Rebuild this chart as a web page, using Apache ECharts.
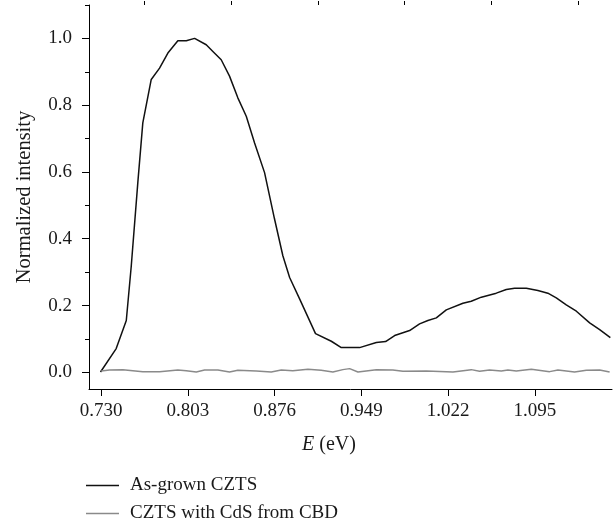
<!DOCTYPE html>
<html>
<head>
<meta charset="utf-8">
<script src="https://cdn.jsdelivr.net/npm/echarts@6/dist/echarts.min.js"></script>
<style>html,body{margin:0;padding:0;background:#fff}#c{width:613px;height:524px}</style>
</head>
<body>
<div id="c"></div>
<script>
// ---- data ----
var seriesNames = ['As-grown CZTS', 'CZTS with CdS from CBD'];
var asGrownE = [0.7294,0.7426,0.7511,0.7553,0.7608,0.7650,0.7721,0.7791,0.7861,0.7945,0.8016,0.8086,0.8184,0.8240,0.8310,0.8380,0.8450,0.8521,0.8591,0.8675,0.8759,0.8829,0.8886,0.8970,0.9104,0.9237,0.9321,0.9475,0.9616,0.9694,0.9770,0.9896,0.9980,1.0050,1.0121,1.0205,1.0345,1.0415,1.0500,1.0626,1.0710,1.0780,1.0879,1.0976,1.1060,1.1131,1.1215,1.1300,1.1412,1.1496,1.1586];
var asGrownI = [0.001,0.071,0.155,0.319,0.568,0.747,0.877,0.911,0.956,0.993,0.993,1.000,0.981,0.961,0.936,0.887,0.822,0.767,0.687,0.598,0.459,0.349,0.284,0.220,0.116,0.093,0.074,0.074,0.089,0.092,0.110,0.125,0.145,0.155,0.163,0.187,0.207,0.213,0.225,0.237,0.248,0.252,0.252,0.245,0.237,0.223,0.202,0.183,0.148,0.128,0.104];
var cdsE = [0.7300,0.7370,0.7482,0.7566,0.7650,0.7791,0.7945,0.8016,0.8100,0.8170,0.8282,0.8380,0.8450,0.8605,0.8731,0.8816,0.8913,0.9040,0.9152,0.9250,0.9334,0.9391,0.9461,0.9616,0.9755,0.9840,1.0037,1.0261,1.0415,1.0485,1.0569,1.0668,1.0724,1.0794,1.0921,1.1075,1.1145,1.1285,1.1384,1.1496,1.1580];
var cdsI = [0.004,0.007,0.008,0.005,0.002,0.002,0.007,0.005,0.001,0.007,0.007,0.001,0.006,0.004,0.001,0.007,0.005,0.009,0.006,0.001,0.008,0.011,0.001,0.008,0.007,0.003,0.004,0.001,0.008,0.003,0.007,0.004,0.007,0.004,0.009,0.002,0.007,0.001,0.006,0.007,0.001];
var xMajorTicks = [0.730,0.803,0.876,0.949,1.022,1.095];
var xMinorTicks = [0.7665,0.8395,0.9125,0.9855,1.0585,1.1315];
var yMajorTicks = [0.0,0.2,0.4,0.6,0.8,1.0];
var yMinorTicks = [0.1,0.3,0.5,0.7,0.9,1.1];
var xRange = [0.7197, 1.16];
var yRange = [-0.05, 1.1];

function zip(a, b) { return a.map(function (v, i) { return [v, b[i]]; }); }

var FONT = '"Liberation Serif", "Times New Roman", serif';
var TXT = '#1a1a1a';
var chart = echarts.init(document.getElementById('c'));
var baseX = {
  type: 'value', min: xRange[0], max: xRange[1], splitLine: {show: false}
};
var baseY = {
  type: 'value', min: yRange[0], max: yRange[1], splitLine: {show: false}
};
chart.setOption({
  animation: false,
  backgroundColor: '#fff',
  grid: {left: 89, right: 1, top: 5, bottom: 135, containLabel: false, outerBoundsMode: 'none'},
  xAxis: [
    Object.assign({}, baseX, {
      axisLine: {show: true, onZero: false, lineStyle: {color: '#000', width: 1}},
      axisTick: {show: true, inside: false, length: 7, customValues: xMajorTicks, lineStyle: {color: '#000', width: 1}},
      axisLabel: {show: true, customValues: xMajorTicks, margin: 13, fontFamily: FONT, fontSize: 19, color: TXT,
        formatter: function (v) { return v.toFixed(3); }}
    }),
    Object.assign({}, baseX, {
      axisLine: {show: false, onZero: false},
      axisTick: {show: true, inside: false, length: 4, customValues: xMinorTicks, lineStyle: {color: '#000', width: 1}},
      axisLabel: {show: false}
    })
  ],
  yAxis: [
    Object.assign({}, baseY, {
      name: 'Normalized intensity', nameLocation: 'middle', nameGap: 54,
      nameTextStyle: {fontFamily: FONT, fontSize: 20.5, color: TXT},
      axisLine: {show: true, onZero: false, lineStyle: {color: '#000', width: 1}},
      axisTick: {show: true, inside: false, length: 7, customValues: yMajorTicks, lineStyle: {color: '#000', width: 1}},
      axisLabel: {show: true, customValues: yMajorTicks, margin: 17, fontFamily: FONT, fontSize: 19, color: TXT,
        formatter: function (v) { return v.toFixed(1); }}
    }),
    Object.assign({}, baseY, {
      position: 'left',
      axisLine: {show: false, onZero: false},
      axisTick: {show: true, inside: false, length: 4, customValues: yMinorTicks, lineStyle: {color: '#000', width: 1}},
      axisLabel: {show: false}
    })
  ],
  legend: {
    orient: 'vertical', left: 86, top: 476, padding: 0, itemWidth: 33, itemHeight: 1.5, itemGap: 9, icon: 'rect',
    textStyle: {fontFamily: FONT, fontSize: 19, lineHeight: 18, color: TXT, padding: [0, 0, 0, 6]},
    data: seriesNames
  },
  graphic: [{
    type: 'text', x: 329, y: 445,
    style: {text: '{i|E} (eV)', align: 'center', verticalAlign: 'middle', fontFamily: FONT, fontSize: 20, fill: TXT,
      rich: {i: {fontStyle: 'italic', fontFamily: FONT, fontSize: 20, fill: TXT}}}
  }],
  series: [
    {name: seriesNames[0], type: 'line', data: zip(asGrownE, asGrownI), symbol: 'none', smooth: false,
      lineStyle: {color: '#111', width: 1.5}, itemStyle: {color: '#111'}},
    {name: seriesNames[1], type: 'line', data: zip(cdsE, cdsI), symbol: 'none', smooth: false,
      lineStyle: {color: '#8a8a8a', width: 1.5}, itemStyle: {color: '#8a8a8a'}}
  ]
});
</script>
</body>
</html>
